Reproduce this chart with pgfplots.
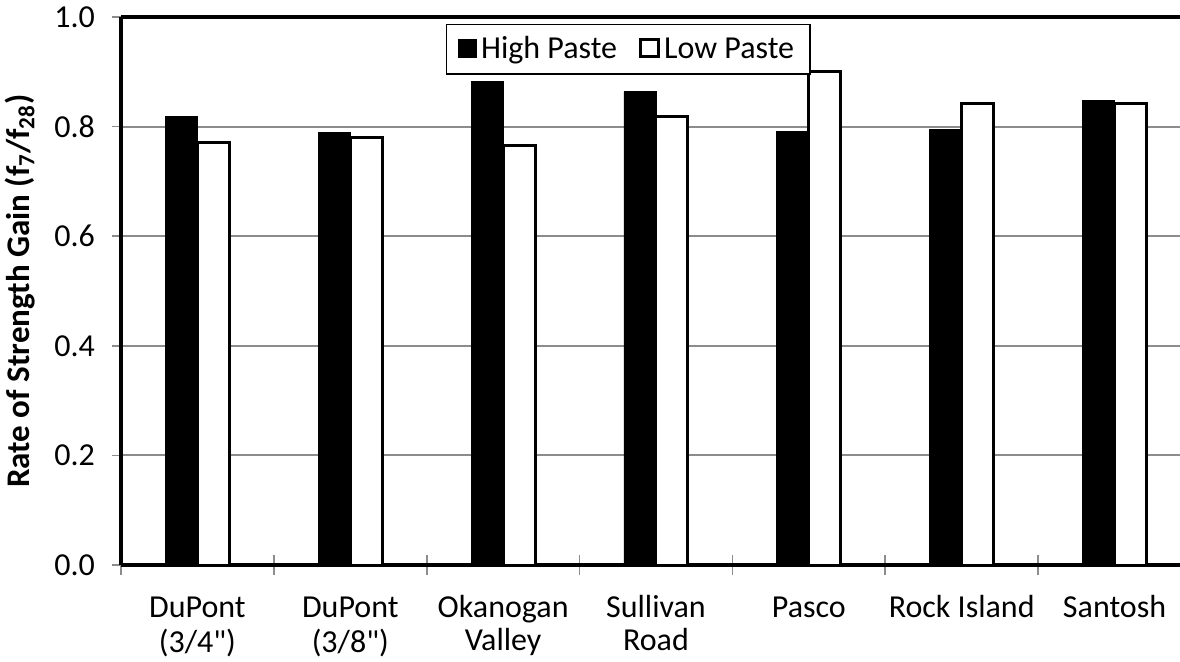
\documentclass[border=0pt]{standalone}
\usepackage{fontspec}
\setmainfont{Carlito}[Ligatures=TeXOff]
\usepackage{pgfplots}
\pgfplotsset{compat=1.18}
\definecolor{gridgray}{HTML}{8C8C8C}
\newcommand\cf{\fontsize{16}{16.5}\selectfont}

\begin{document}
\begin{tikzpicture}[x=0.5pt,y=0.5pt]
\begin{axis}[
  at={(0,0)}, anchor=south west,
  scale only axis,
  width=535pt, height=274pt,
  ybar=0pt, bar width=16pt,
  xmin=-0.5, xmax=6.5,
  ymin=0, ymax=1,
  axis x line*=bottom, axis y line*=left,
  xtick={0,...,6},
  xticklabels={{\strut DuPont\\(3/4")},{\strut DuPont\\(3/8")},{\strut Okanogan\\Valley},{\strut Sullivan\\Road},{\strut Pasco},{\strut Rock Island},{\strut Santosh}},
  x tick label style={font=\cf, align=center, anchor=north, yshift=-9pt},
  major x tick style={draw=none},
  minor xtick={-0.5,0.5,...,5.5},
  minor tick length=10pt,
  x tick style={gridgray, line width=0.8pt},
  xtick align=center,
  ytick={0,0.2,...,1.0},
  ytick align=outside,
  major tick length=4.5pt,
  y tick style={gridgray, line width=0.8pt},
  y tick label style={font=\cf, anchor=east, xshift=-5pt, /pgf/number format/.cd, fixed, fixed zerofill, precision=1, assume math mode=true},
  ymajorgrids,
  grid style={gridgray, line width=1pt},
  axis line style={black, line width=2pt, -},
  ylabel={\bfseries Rate of Strength Gain (f\textsubscript{7}/f\textsubscript{28})},
  ylabel style={font=\fontsize{16.5}{18}\selectfont, yshift=3pt},
  legend style={at={(0.474,0.987)}, anchor=north, legend columns=2,
    draw=black, line width=0.6pt, font=\cf, inner xsep=6pt, inner ysep=4pt,
    /tikz/every even column/.append style={column sep=9pt}},
  legend image code/.code={\draw[#1] (0pt,-3.8pt) rectangle (9pt,4.8pt);},
  clip=false,
]
\draw[black, line width=2.2pt] (rel axis cs:0,1) -- (rel axis cs:1,1);
\addplot[fill=black, draw=black, line width=0.4pt] coordinates {
  (0,0.818) (1,0.789) (2,0.883) (3,0.864) (4,0.791) (5,0.795) (6,0.848)};
\addplot[fill=white, draw=black, line width=1.5pt] coordinates {
  (0,0.771) (1,0.780) (2,0.766) (3,0.818) (4,0.900) (5,0.842) (6,0.842)};
\legend{High Paste, Low Paste}
\end{axis}
\pgfresetboundingbox
\useasboundingbox (-121,-96) rectangle (1059,565);
\end{tikzpicture}
\end{document}
